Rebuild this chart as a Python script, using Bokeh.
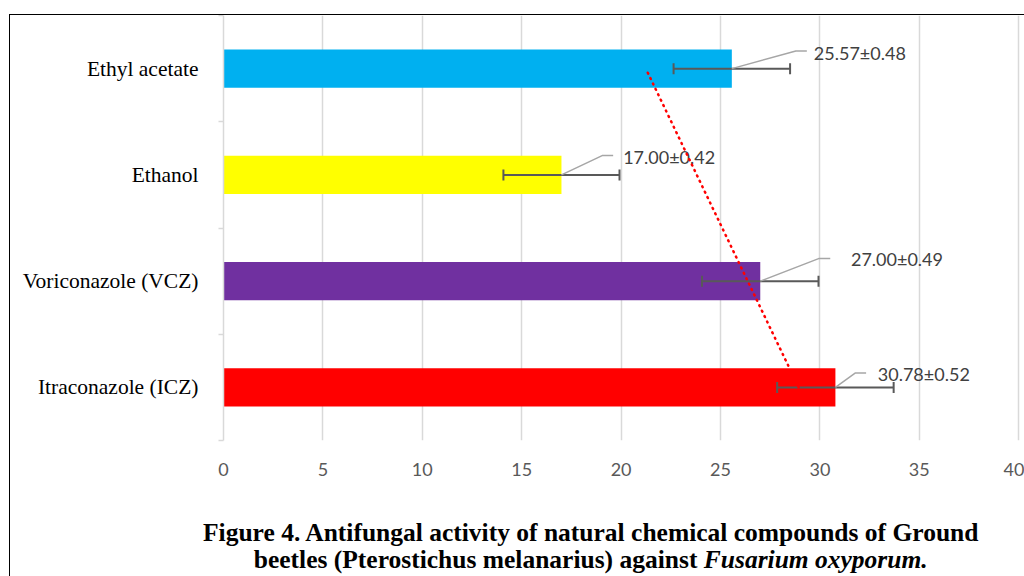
import numpy as np
from bokeh.plotting import figure
from bokeh.layouts import column
from bokeh.models import ColumnDataSource, FixedTicker, Range1d, Div
from bokeh.core.properties import value
from bokeh.embed import file_html
from bokeh.resources import INLINE

# ---------------- data (listed bottom -> top, as drawn) ----------------
categories = ["Itraconazole (ICZ)", "Voriconazole (VCZ)", "Ethanol", "Ethyl acetate"]
means = [30.78, 27.00, 17.00, 25.57]
sds = [0.52, 0.49, 0.42, 0.48]
bar_err = [2.93, 2.93, 2.92, 2.93]          # error-bar half width as drawn
colors = ["#FF0000", "#7030A0", "#FFFF00", "#00B0F0"]
x_ticks = [0, 5, 10, 15, 20, 25, 30, 35, 40]
value_labels = [f"{m:.2f}±{s:.2f}" for m, s in zip(means, sds)]
title_line1 = "Figure 4. Antifungal activity of natural chemical compounds of Ground"
title_line2a = "beetles (Pterostichus melanarius) against"
title_line2b = "Fusarium oxyporum."

# ---------------- label leader styling (pixels) ----------------
lead_elbow_dx = [19.7, 59.0, 40.7, 64.0]
lead_elbow_dy = [14.3, 22.7, 19.3, 17.7]
lead_tail = 11.0
label_dx = [42.4, 90.7, 61.7, 82.0]
label_dy = [13.3, 21.7, 17.6, 16.0]

# ---------------- layout ----------------
X0, Y0 = 10, 15                 # page position of the canvases (inside the border)
W1, H1 = 1014, 485
FL, FT, FB = 213, 0, 60
frame_w = W1 - FL
frame_h = H1 - FT - FB
X_MAX = frame_w / 19.88
ppx = frame_w / X_MAX
ppy = frame_h / len(categories)

ypos = np.arange(len(categories)) + 0.5
m = np.array(means)
e = np.array(bar_err)

p = figure(width=W1, height=H1, x_range=Range1d(0, X_MAX), y_range=Range1d(0, len(categories)),
           output_backend="svg", toolbar_location=None,
           min_border_left=FL, min_border_right=0, min_border_top=FT, min_border_bottom=FB)
p.outline_line_color = None
p.background_fill_color = "white"
p.border_fill_color = "white"

# bars
src = ColumnDataSource(dict(y=ypos, mean=m, color=colors))
p.hbar(y="y", left=0, right="mean", height=0.36, fill_color="color", line_color=None, source=src)

# error bars
p.segment(x0=m - e, x1=m + e, y0=ypos, y1=ypos, line_color="#595959", line_width=2)
p.scatter(x=np.concatenate([m - e, m + e]), y=np.concatenate([ypos, ypos]), marker="dash",
          angle=np.pi / 2, size=11, line_color="#595959", line_width=2)

# leader lines
xs, ys = [], []
for i in range(len(categories)):
    ex = m[i] + lead_elbow_dx[i] / ppx
    ey = ypos[i] + lead_elbow_dy[i] / ppy
    xs.append([m[i], ex, ex + lead_tail / ppx])
    ys.append([ypos[i], ey, ey])
p.multi_line(xs=xs, ys=ys, line_color="#A6A6A6", line_width=1.5)

# value labels
p.text(x=m + np.array(label_dx) / ppx, y=ypos + np.array(label_dy) / ppy, text=value_labels,
       text_font=value("Lato"), text_font_size="18px", text_color="#404040",
       text_align="left", text_baseline="middle")

# linear trendline (values vs category index)
idx = np.arange(1, len(categories) + 1)
coef = np.polyfit(idx, m, 1)
fit = np.polyval(coef, idx)
p.line(x=[fit[0], fit[-1]], y=[ypos[0], ypos[-1]], line_color="#FF0000", line_width=2.5,
       line_dash="1 5", line_cap="round")

# axes & grid
p.xgrid.ticker = FixedTicker(ticks=x_ticks)
p.xgrid.grid_line_color = "#D9D9D9"
p.xgrid.grid_line_width = 1.5
p.ygrid.visible = False

xa = p.xaxis[0]
xa.ticker = FixedTicker(ticks=x_ticks)
xa.axis_line_color = None
xa.major_tick_line_color = None
xa.minor_tick_line_color = None
xa.major_tick_out = 0
xa.major_label_standoff = 22
xa.major_label_text_font = "Lato"
xa.major_label_text_font_size = "18px"
xa.major_label_text_color = "#595959"

ya = p.yaxis[0]
ya.ticker = FixedTicker(ticks=list(ypos), minor_ticks=list(range(len(categories) + 1)))
ya.major_label_overrides = {float(y): c for y, c in zip(ypos, categories)}
ya.axis_line_color = "#D9D9D9"
ya.axis_line_width = 1.5
ya.major_tick_line_color = None
ya.major_tick_out = 0
ya.major_tick_in = 0
ya.minor_tick_line_color = "#D9D9D9"
ya.minor_tick_line_width = 1.5
ya.minor_tick_out = 5
ya.minor_tick_in = 0
ya.major_label_standoff = 20
ya.major_label_text_font = "Liberation Serif"
ya.major_label_text_font_size = "21.5px"
ya.major_label_text_color = "black"

# ---------------- caption ----------------
H2 = 576 - Y0 - H1
caption_html = (
    '<div style="margin:0; padding:19px 0 0 193px; text-align:center; '
    "font-family:'Liberation Serif', serif; font-weight:bold; font-size:25.5px; "
    'line-height:27px; color:black; white-space:nowrap;">'
    f"{title_line1}<br>{title_line2a} <i>{title_line2b}</i></div>"
)
cap = Div(text=caption_html, width=W1, height=H2, margin=0,
          styles={"background-color": "white", "overflow": "hidden"})

layout = column(p, cap, margin=(Y0 - 1, 0, 0, X0 - 1), spacing=0,
                styles={"border-left": "1px solid black", "border-top": "1px solid black"})

open("out.html", "w").write(file_html(layout, INLINE))
